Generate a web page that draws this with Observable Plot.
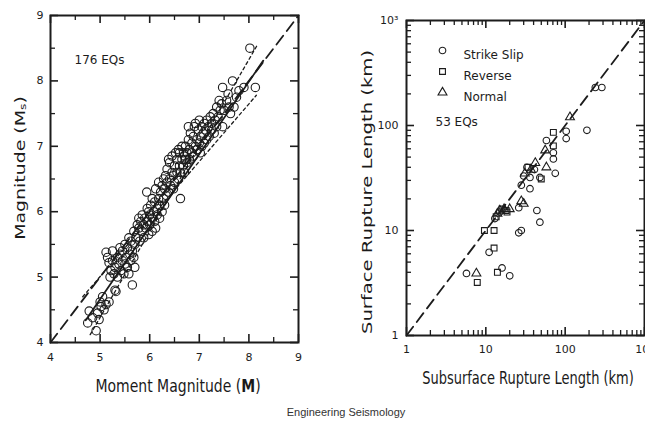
<!DOCTYPE html>
<html>
<head>
<meta charset="utf-8">
<script src="https://cdn.jsdelivr.net/npm/d3@7"></script>
<script src="https://cdn.jsdelivr.net/npm/@observablehq/plot@0.6"></script>
<style>
  html, body { margin: 0; padding: 0; background: #fff; }
  #wrap { position: relative; width: 645px; height: 430px; overflow: hidden; background: #fff; }
  .panel { position: absolute; top: 0; }
  .panel svg { max-width: none !important; }
  .lbl { position: absolute; font-family: "DejaVu Sans", sans-serif; color: #1a1a1a; white-space: nowrap; }
  .lbl sub { font-size: 65%; vertical-align: -0.15em; }
  #caption { position: absolute; left: 346px; top: 412px; transform: translate(-50%, -50%);
             font-family: "Liberation Sans", Arial, sans-serif; font-size: 11px; color: #333; white-space: nowrap; }
</style>
</head>
<body>
<div id="wrap">
  <div id="leftPanel" class="panel" style="left:0px;width:320px"></div>
  <div id="rightPanel" class="panel" style="left:330px;width:330px"></div>
  <div class="lbl" style="left:20px;top:168px;font-size:14px;transform:translate(-50%,-50%) rotate(-90deg) scale(1.35,1)">Magnitude (M<sub>s</sub>)</div>
  <div class="lbl" style="left:178px;top:385px;font-size:14px;transform:translate(-50%,-50%) scale(1,1.3)">Moment Magnitude (<b>M</b>)</div>
  <div class="lbl" style="left:367px;top:192px;font-size:14px;transform:translate(-50%,-50%) rotate(-90deg) scale(1.4,1)">Surface Rupture Length (km)</div>
  <div class="lbl" style="left:528px;top:378px;font-size:13px;transform:translate(-50%,-50%) scale(1,1.3)">Subsurface Rupture Length (km)</div>
  <div id="caption">Engineering Seismology</div>
</div>
<script>
// ---------- Left panel: Ms vs moment magnitude M (176 EQs) ----------
const M = [
  4.75,4.78,4.85,4.92,4.95,5.00,5.02,5.08,5.12,5.18,5.05,4.98,
  5.12,5.15,5.18,5.22,5.25,5.28,5.30,5.32,5.30,5.35,5.38,5.40,5.42,5.45,5.45,5.48,5.50,5.50,5.35,5.40,5.25,5.20,
  5.52,5.55,5.55,5.58,5.60,5.62,5.62,5.65,5.65,5.68,5.70,5.70,5.72,5.75,5.78,5.78,5.80,5.82,5.85,5.85,5.88,5.88,5.58,5.68,5.90,
  5.92,5.94,5.95,5.95,5.98,6.00,6.00,6.02,6.05,6.05,6.08,6.10,6.10,6.12,6.15,6.15,6.18,6.20,6.20,6.22,6.25,6.25,6.28,6.28,6.30,6.30,5.98,6.05,6.12,6.18,
  6.32,6.33,6.35,6.35,6.38,6.40,6.40,6.42,6.45,6.45,6.48,6.50,6.50,6.52,6.55,6.55,6.58,6.60,6.60,6.62,6.62,6.65,6.65,6.68,6.68,6.38,6.48,6.58,6.70,6.70,
  6.72,6.75,6.75,6.78,6.80,6.80,6.82,6.85,6.85,6.88,6.88,6.90,6.92,6.95,6.95,6.98,7.00,7.00,7.02,7.05,7.05,7.08,7.10,7.10,6.78,6.92,7.02,6.72,
  7.12,7.15,7.15,7.18,7.20,7.22,7.25,7.25,7.28,7.30,7.32,7.35,7.35,7.38,7.40,7.42,7.47,7.45,
  7.47,7.50,7.55,7.58,7.60,7.63,7.67,7.70,7.75,7.80,7.90,8.02,8.13
];
const Ms = [
  4.30,4.48,4.38,4.18,4.45,4.62,4.55,4.50,4.58,4.62,4.70,4.35,
  5.38,5.30,5.22,5.10,5.25,5.05,4.80,4.78,5.15,5.30,5.20,5.35,5.10,5.25,5.40,5.05,5.20,5.50,5.00,5.45,5.40,5.00,
  5.30,5.15,5.45,5.60,5.35,5.25,5.55,4.88,5.40,5.70,5.15,5.50,5.60,5.80,5.75,5.90,5.55,5.85,5.70,5.95,5.60,5.80,5.05,5.30,5.90,
  5.75,6.30,5.85,6.05,5.65,5.80,5.95,6.10,5.90,5.70,6.00,5.85,6.15,5.75,6.05,5.95,6.20,6.10,5.90,6.30,6.00,6.40,6.20,6.50,6.10,6.35,6.00,6.20,6.35,6.45,
  6.55,6.25,6.45,6.65,6.30,6.50,6.75,6.40,6.60,6.85,6.55,6.70,6.45,6.90,6.60,6.80,6.50,6.70,6.90,6.20,6.60,6.80,7.00,6.70,6.90,6.80,6.35,6.95,6.60,6.85,
  7.00,6.75,6.90,7.10,6.80,6.95,7.20,6.90,7.05,7.15,6.85,7.30,7.00,7.10,6.95,7.25,7.05,7.40,7.15,7.00,7.30,7.20,7.35,7.05,7.30,7.35,6.90,6.80,
  7.25,7.10,7.40,7.30,7.15,7.45,7.25,7.35,7.50,7.20,7.40,7.30,7.60,7.45,7.70,7.55,7.30,7.65,
  7.90,7.55,7.70,7.80,7.60,7.50,8.00,7.60,7.75,7.85,7.90,8.50,7.90
];
const fitM = [4.71, 8.29],  fitMs = [4.34, 8.31];     // solid regression line
const upM  = [4.80, 8.17],  upMs  = [4.12, 8.55];     // dotted (steeper)
const loM  = [4.65, 8.15],  loMs  = [4.70, 7.78];     // dotted (shallower)
const diagLeft = [4, 9];                               // dashed 1:1
const leftMajor = [4, 5, 6, 7, 8, 9];
const leftMinor = [4.5, 5.5, 6.5, 7.5, 8.5];
const leftNote = "176 EQs";

// ---------- Right panel: surface vs subsurface rupture length (53 EQs) ----------
const subLen = [
  240,290,103,103,188,58,71,71,75,33,48,36,28,36,26,44,48,26,28,11,5.7,16,20,30,13,15,41,
  71,71,50,9.6,12.7,12.7,7.8,14,18,18.5,16,34,13.5,
  115,56,58,28,30,7.6,42,15,17,14,31,20,37
];
const surfLen = [
  230,230,88,75,90,72,55,48,35,40,32,32,27,25,16.5,15.5,12,9.5,10,6.2,3.9,4.4,3.7,33,13,15,38,
  86,64,31,10,10,6.8,3.2,4.0,15.5,15,16,40,13.5,
  120,58,40,19,18,3.9,44,15.5,16,14.5,35,16,38
];
const faultType = [
  "Strike Slip","Strike Slip","Strike Slip","Strike Slip","Strike Slip","Strike Slip","Strike Slip","Strike Slip","Strike Slip",
  "Strike Slip","Strike Slip","Strike Slip","Strike Slip","Strike Slip","Strike Slip","Strike Slip","Strike Slip","Strike Slip",
  "Strike Slip","Strike Slip","Strike Slip","Strike Slip","Strike Slip","Strike Slip","Strike Slip","Strike Slip","Strike Slip",
  "Reverse","Reverse","Reverse","Reverse","Reverse","Reverse","Reverse","Reverse","Reverse","Reverse","Reverse","Reverse","Reverse",
  "Normal","Normal","Normal","Normal","Normal","Normal","Normal","Normal","Normal","Normal","Normal","Normal","Normal"
];
const typeNames = ["Strike Slip", "Reverse", "Normal"];
const typeSymbols = ["circle", "square", "triangle"];
const diagRight = [1, 1000];
const rightMajor = [1, 10, 100, 1000];
const rightMajorLabels = ["1", "10", "100", "10³"];
const rightMinor = [2,3,4,5,6,7,8,9,20,30,40,50,60,70,80,90,200,300,400,500,600,700,800,900];
const rightNote = "53 EQs";

// ---------- build tables ----------
const leftPts = M.map((m, i) => ({m, ms: Ms[i]}));
const pairs = (a, b) => a.map((v, i) => ({m: v, ms: b[i]}));
const rightPts = subLen.map((s, i) => ({sub: s, surf: surfLen[i], type: faultType[i]}));
const diagR = diagRight.map(v => ({a: v}));

const INK = "#1c1c1c";
const baseStyle = {fontFamily: "DejaVu Sans, sans-serif", fontSize: "11px", background: "transparent", color: INK, overflow: "visible", maxWidth: "none"};

// inward ticks on all four sides (frame-anchored tick marks, pixel length via insets)
function tickMarks(maj, min, iw, ih) {
  const out = [];
  for (const [vals, len, sw] of [[maj, 8, 1.6], [min, 5, 1.3]]) {
    out.push(
      Plot.tickX(vals, {x: d => d, insetTop: ih - len, stroke: INK, strokeWidth: sw}),
      Plot.tickX(vals, {x: d => d, insetBottom: ih - len, stroke: INK, strokeWidth: sw}),
      Plot.tickY(vals, {y: d => d, insetRight: iw - len, stroke: INK, strokeWidth: sw}),
      Plot.tickY(vals, {y: d => d, insetLeft: iw - len, stroke: INK, strokeWidth: sw})
    );
  }
  return out;
}

// Left plot geometry
const LW = 320, LH = 400, LML = 50, LMR = 22, LMT = 15, LMB = 58;
const LIW = LW - LML - LMR, LIH = LH - LMT - LMB;
const leftDom = [4, 9];

const left = Plot.plot({
  width: LW, height: LH, marginLeft: LML, marginRight: LMR, marginTop: LMT, marginBottom: LMB,
  style: baseStyle,
  x: {domain: leftDom},
  y: {domain: leftDom},
  marks: [
    Plot.line(pairs(diagLeft, diagLeft), {x: "m", y: "ms", stroke: INK, strokeWidth: 1.8, strokeDasharray: "11,6"}),
    Plot.line(pairs(upM, upMs), {x: "m", y: "ms", stroke: INK, strokeWidth: 1.3, strokeDasharray: "3,3"}),
    Plot.line(pairs(loM, loMs), {x: "m", y: "ms", stroke: INK, strokeWidth: 1.3, strokeDasharray: "3,3"}),
    Plot.line(pairs(fitM, fitMs), {x: "m", y: "ms", stroke: INK, strokeWidth: 1.8}),
    Plot.dot(leftPts, {x: "m", y: "ms", r: 4.2, stroke: INK, strokeWidth: 1.1, fill: "none"}),
    ...tickMarks(leftMajor, leftMinor, LIW, LIH),
    Plot.axisX(leftMajor, {tickSize: 0, tickPadding: 11, label: null, fontSize: 11, tickFormat: d => String(d)}),
    Plot.axisY(leftMajor, {tickSize: 0, tickPadding: 7, label: null, fontSize: 11, tickFormat: d => String(d)}),
    Plot.text([leftNote], {frameAnchor: "top-left", dx: 24, dy: 40, text: d => d, textAnchor: "start", fontSize: 12, fill: INK}),
    Plot.frame({stroke: INK, strokeWidth: 2})
  ]
});
document.getElementById("leftPanel").append(left);

// Right plot geometry
const RW = 330, RH = 400, RML = 76, RMR = 16, RMT = 20, RMB = 65;
const RIW = RW - RML - RMR, RIH = RH - RMT - RMB;
const rightDom = [1, 1000];
const legendMarks = typeNames.flatMap((t, i) => [
  Plot.dot([t], {frameAnchor: "top-left", dx: 36, dy: 30 + i * 21, symbol: d => d, r: 3.3, stroke: INK, strokeWidth: 1.1, fill: "none"}),
  Plot.text([t], {frameAnchor: "top-left", dx: 57, dy: 30 + i * 21, text: d => d, textAnchor: "start", fontSize: 12, fill: INK})
]);

const right = Plot.plot({
  width: RW, height: RH, marginLeft: RML, marginRight: RMR, marginTop: RMT, marginBottom: RMB,
  style: baseStyle,
  x: {type: "log", domain: rightDom},
  y: {type: "log", domain: rightDom},
  symbol: {domain: typeNames, range: typeSymbols},
  marks: [
    Plot.line(diagR, {x: "a", y: "a", stroke: INK, strokeWidth: 1.8, strokeDasharray: "11,6"}),
    Plot.dot(rightPts, {x: "sub", y: "surf", symbol: "type", r: 3.3, stroke: INK, strokeWidth: 1.1, fill: "none"}),
    ...tickMarks(rightMajor, rightMinor, RIW, RIH),
    Plot.axisX(rightMajor, {tickSize: 0, tickPadding: 10, label: null, fontSize: 11,
      tickFormat: d => rightMajorLabels[rightMajor.indexOf(d)]}),
    Plot.axisY(rightMajor, {tickSize: 0, tickPadding: 8, label: null, fontSize: 11,
      tickFormat: d => rightMajorLabels[rightMajor.indexOf(d)]}),
    ...legendMarks,
    Plot.text([rightNote], {frameAnchor: "top-left", dx: 29, dy: 97, text: d => d, textAnchor: "start", fontSize: 12, fill: INK}),
    Plot.frame({stroke: INK, strokeWidth: 2})
  ]
});
document.getElementById("rightPanel").append(right);
</script>
</body>
</html>
